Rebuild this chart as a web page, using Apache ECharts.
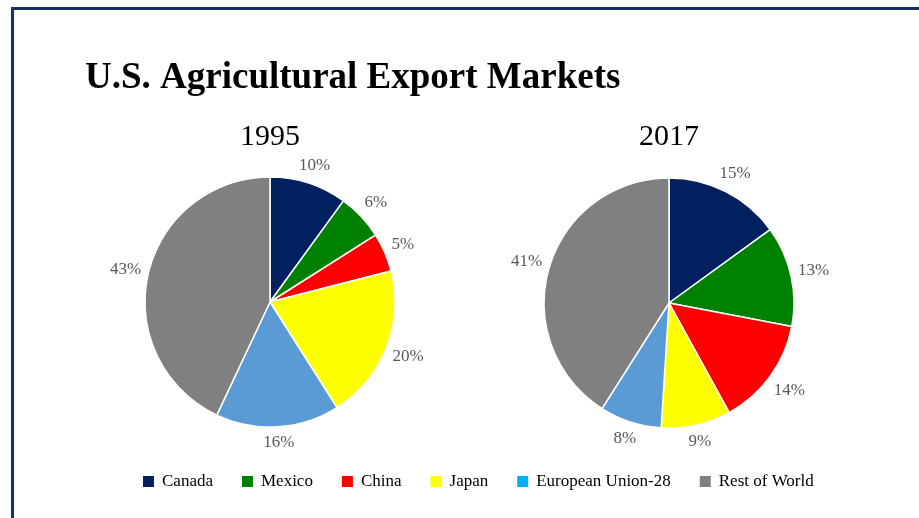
<!DOCTYPE html>
<html>
<head>
<meta charset="utf-8">
<script src="https://cdn.jsdelivr.net/npm/echarts@6/dist/echarts.min.js"></script>
<style>
  html, body { margin: 0; padding: 0; background: #fff; }
  #container { width: 919px; height: 518px; }
</style>
</head>
<body>
<div id="container"></div>
<script>
/* Data */
var markets = ['Canada', 'Mexico', 'China', 'Japan', 'European Union-28', 'Rest of World'];
var share1995 = [10, 6, 5, 20, 16, 43];
var share2017 = [15, 13, 14, 9, 8, 41];
var years = ['1995', '2017'];

var sliceColors = ['#002060', '#008000', '#ff0000', '#ffff00', '#5b9bd5', '#808080'];
// legend swatch for EU is a brighter blue than the slice
var legendColors = ['#002060', '#008000', '#ff0000', '#ffff00', '#00b0f0', '#808080'];

var serif = 'Liberation Serif, Times New Roman, serif';

var dom = document.getElementById('container');
var myChart = echarts.init(dom);

function toData(values) {
    return values.map(function (v, i) {
        return { name: markets[i], value: v };
    });
}

var centers = [[270, 302], [669, 303]];
var radius = 125;
var labelGap = 6;

/* push a label out so its box sits just outside the circle, along its own direction */
function outerLabel(c) {
    return function (params) {
        var lr = params.labelRect;
        var dx = lr.x + lr.width / 2 - c[0];
        var dy = lr.y + lr.height / 2 - c[1];
        var d = Math.sqrt(dx * dx + dy * dy);
        var s = dx / d, co = dy / d;
        var dist = radius + labelGap + lr.width / 2 * Math.abs(s) + lr.height / 2 * Math.abs(co);
        return {
            x: c[0] + s * dist,
            y: c[1] + co * dist,
            align: 'center',
            verticalAlign: 'middle'
        };
    };
}

var series = [];
[share1995, share2017].forEach(function (vals, k) {
    // the pie itself
    series.push({
        type: 'pie',
        center: centers[k],
        radius: radius,
        startAngle: 90,
        color: sliceColors,
        data: toData(vals),
        label: { show: false },
        labelLine: { show: false },
        itemStyle: { borderColor: '#fff', borderWidth: 1.5 },
        emphasis: { disabled: true },
        animation: false
    });
    // invisible ring just for the percentage labels
    series.push({
        type: 'pie',
        center: centers[k],
        radius: [radius, radius + 36],
        startAngle: 90,
        silent: true,
        data: toData(vals),
        itemStyle: { color: 'rgba(0,0,0,0)' },
        label: {
            show: true,
            position: 'inside',
            formatter: '{c}%',
            fontFamily: serif,
            fontSize: 17,
            color: '#595959'
        },
        labelLayout: outerLabel(centers[k]),
        labelLine: { show: false },
        emphasis: { disabled: true },
        animation: false
    });
});

option = {
    backgroundColor: '#fff',
    title: [
        {
            text: 'U.S. Agricultural Export Markets',
            left: 85,
            top: 60,
            padding: 0,
            textStyle: { fontFamily: serif, fontWeight: 'bold', fontSize: 37, color: '#000' }
        },
        {
            text: years[0],
            left: centers[0][0],
            top: 122,
            padding: 0,
            textAlign: 'center',
            textStyle: { fontFamily: serif, fontWeight: 'normal', fontSize: 30, color: '#000' }
        },
        {
            text: years[1],
            left: centers[1][0],
            top: 122,
            padding: 0,
            textAlign: 'center',
            textStyle: { fontFamily: serif, fontWeight: 'normal', fontSize: 30, color: '#000' }
        }
    ],
    legend: {
        left: 141,
        top: 473,
        padding: 0,
        itemWidth: 13,
        itemHeight: 13,
        itemGap: 27,
        icon: 'rect',
        selectedMode: false,
        textStyle: { fontFamily: serif, fontSize: 17, color: '#000', padding: [0, 0, 0, 2] },
        data: markets.map(function (m, i) {
            return { name: m, itemStyle: { color: legendColors[i] } };
        })
    },
    graphic: [{
        type: 'rect',
        shape: { x: 12.5, y: 8.5, width: 1000, height: 600 },
        style: { fill: 'none', stroke: '#15316f', lineWidth: 3 },
        silent: true
    }],
    series: series
};

myChart.setOption(option);
</script>
</body>
</html>
